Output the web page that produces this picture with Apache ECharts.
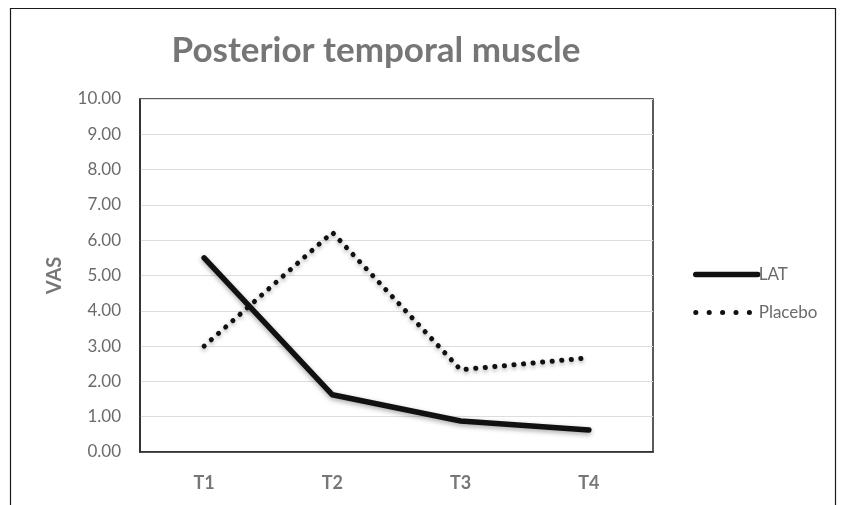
<!DOCTYPE html>
<html><head><meta charset="utf-8">
<script src="https://cdn.jsdelivr.net/npm/echarts@6/dist/echarts.min.js"></script>
<style>html,body{margin:0;padding:0;background:#fff}#c{width:842px;height:505px}</style>
</head><body><div id="c"></div>
<script>
const categories = ['T1','T2','T3','T4'];
const latValues = [5.50, 1.62, 0.88, 0.62];
const placeboValues = [3.00, 6.22, 2.33, 2.67];
const yTicks = [0,1,2,3,4,5,6,7,8,9,10];

const chart = echarts.init(document.getElementById('c'), null, {renderer:'canvas'});
const FONT = 'Lato';
chart.setOption({
  animation:false,
  backgroundColor:'#fff',
  graphic:[{type:'rect', shape:{x:10.5,y:8.5,width:825,height:520}, style:{fill:'none',stroke:'#1a1a1a',lineWidth:1.2}, silent:true}],
  title:{text:'Posterior temporal muscle', left:371, top:28, textAlign:'center',
    textStyle:{fontFamily:FONT, fontSize:35, fontWeight:'bold', color:'#767676'}},
  grid:{left:140, right:189, top:99, bottom:53, show:true, borderColor:'#262626', borderWidth:1.5, containLabel:false},
  legend:{orient:'vertical', left:688, top:261, itemWidth:62, itemHeight:12, itemGap:21,
    itemStyle:{opacity:0},
    textStyle:{fontFamily:FONT, fontSize:17, color:'#6b6b6b', padding:[0,0,0,-4]},
    data:[
      {name:'LAT', lineStyle:{width:5.5, color:'#111', cap:'round'}},
      {name:'Placebo', lineStyle:{width:5, color:'#111', type:[0.1,13.3], cap:'round'}}
    ]},
  xAxis:{type:'category', data:categories, boundaryGap:true,
    axisLine:{show:true, lineStyle:{color:'#262626', width:1.5}}, axisTick:{show:false},
    axisLabel:{fontFamily:FONT, fontSize:18, fontWeight:'bold', color:'#777', margin:22}},
  yAxis:{type:'value', min:0, max:10, interval:1,
    name:'VAS', nameLocation:'middle', nameGap:75, nameRotate:90,
    nameTextStyle:{fontFamily:FONT, fontSize:20, fontWeight:'bold', color:'#777'},
    axisLine:{show:true, lineStyle:{color:'#262626', width:1.5}}, axisTick:{show:false},
    axisLabel:{fontFamily:FONT, fontSize:17, color:'#6b6b6b', margin:19, formatter:v=>v.toFixed(2)},
    splitLine:{lineStyle:{color:'#dedede', width:1.2}}},
  series:[
    {name:'LAT', type:'line', data:latValues, symbol:'none', color:'#111',
      lineStyle:{color:'#111', width:5.5, cap:'round', join:'round', shadowColor:'rgba(0,0,0,0.35)', shadowBlur:5, shadowOffsetY:2}},
    {name:'Placebo', type:'line', data:placeboValues, symbol:'none', color:'#111',
      lineStyle:{color:'#111', width:5, type:[0.1,9.5], cap:'round', join:'round', shadowColor:'rgba(0,0,0,0.35)', shadowBlur:4, shadowOffsetY:2}}
  ]
});
</script></body></html>
